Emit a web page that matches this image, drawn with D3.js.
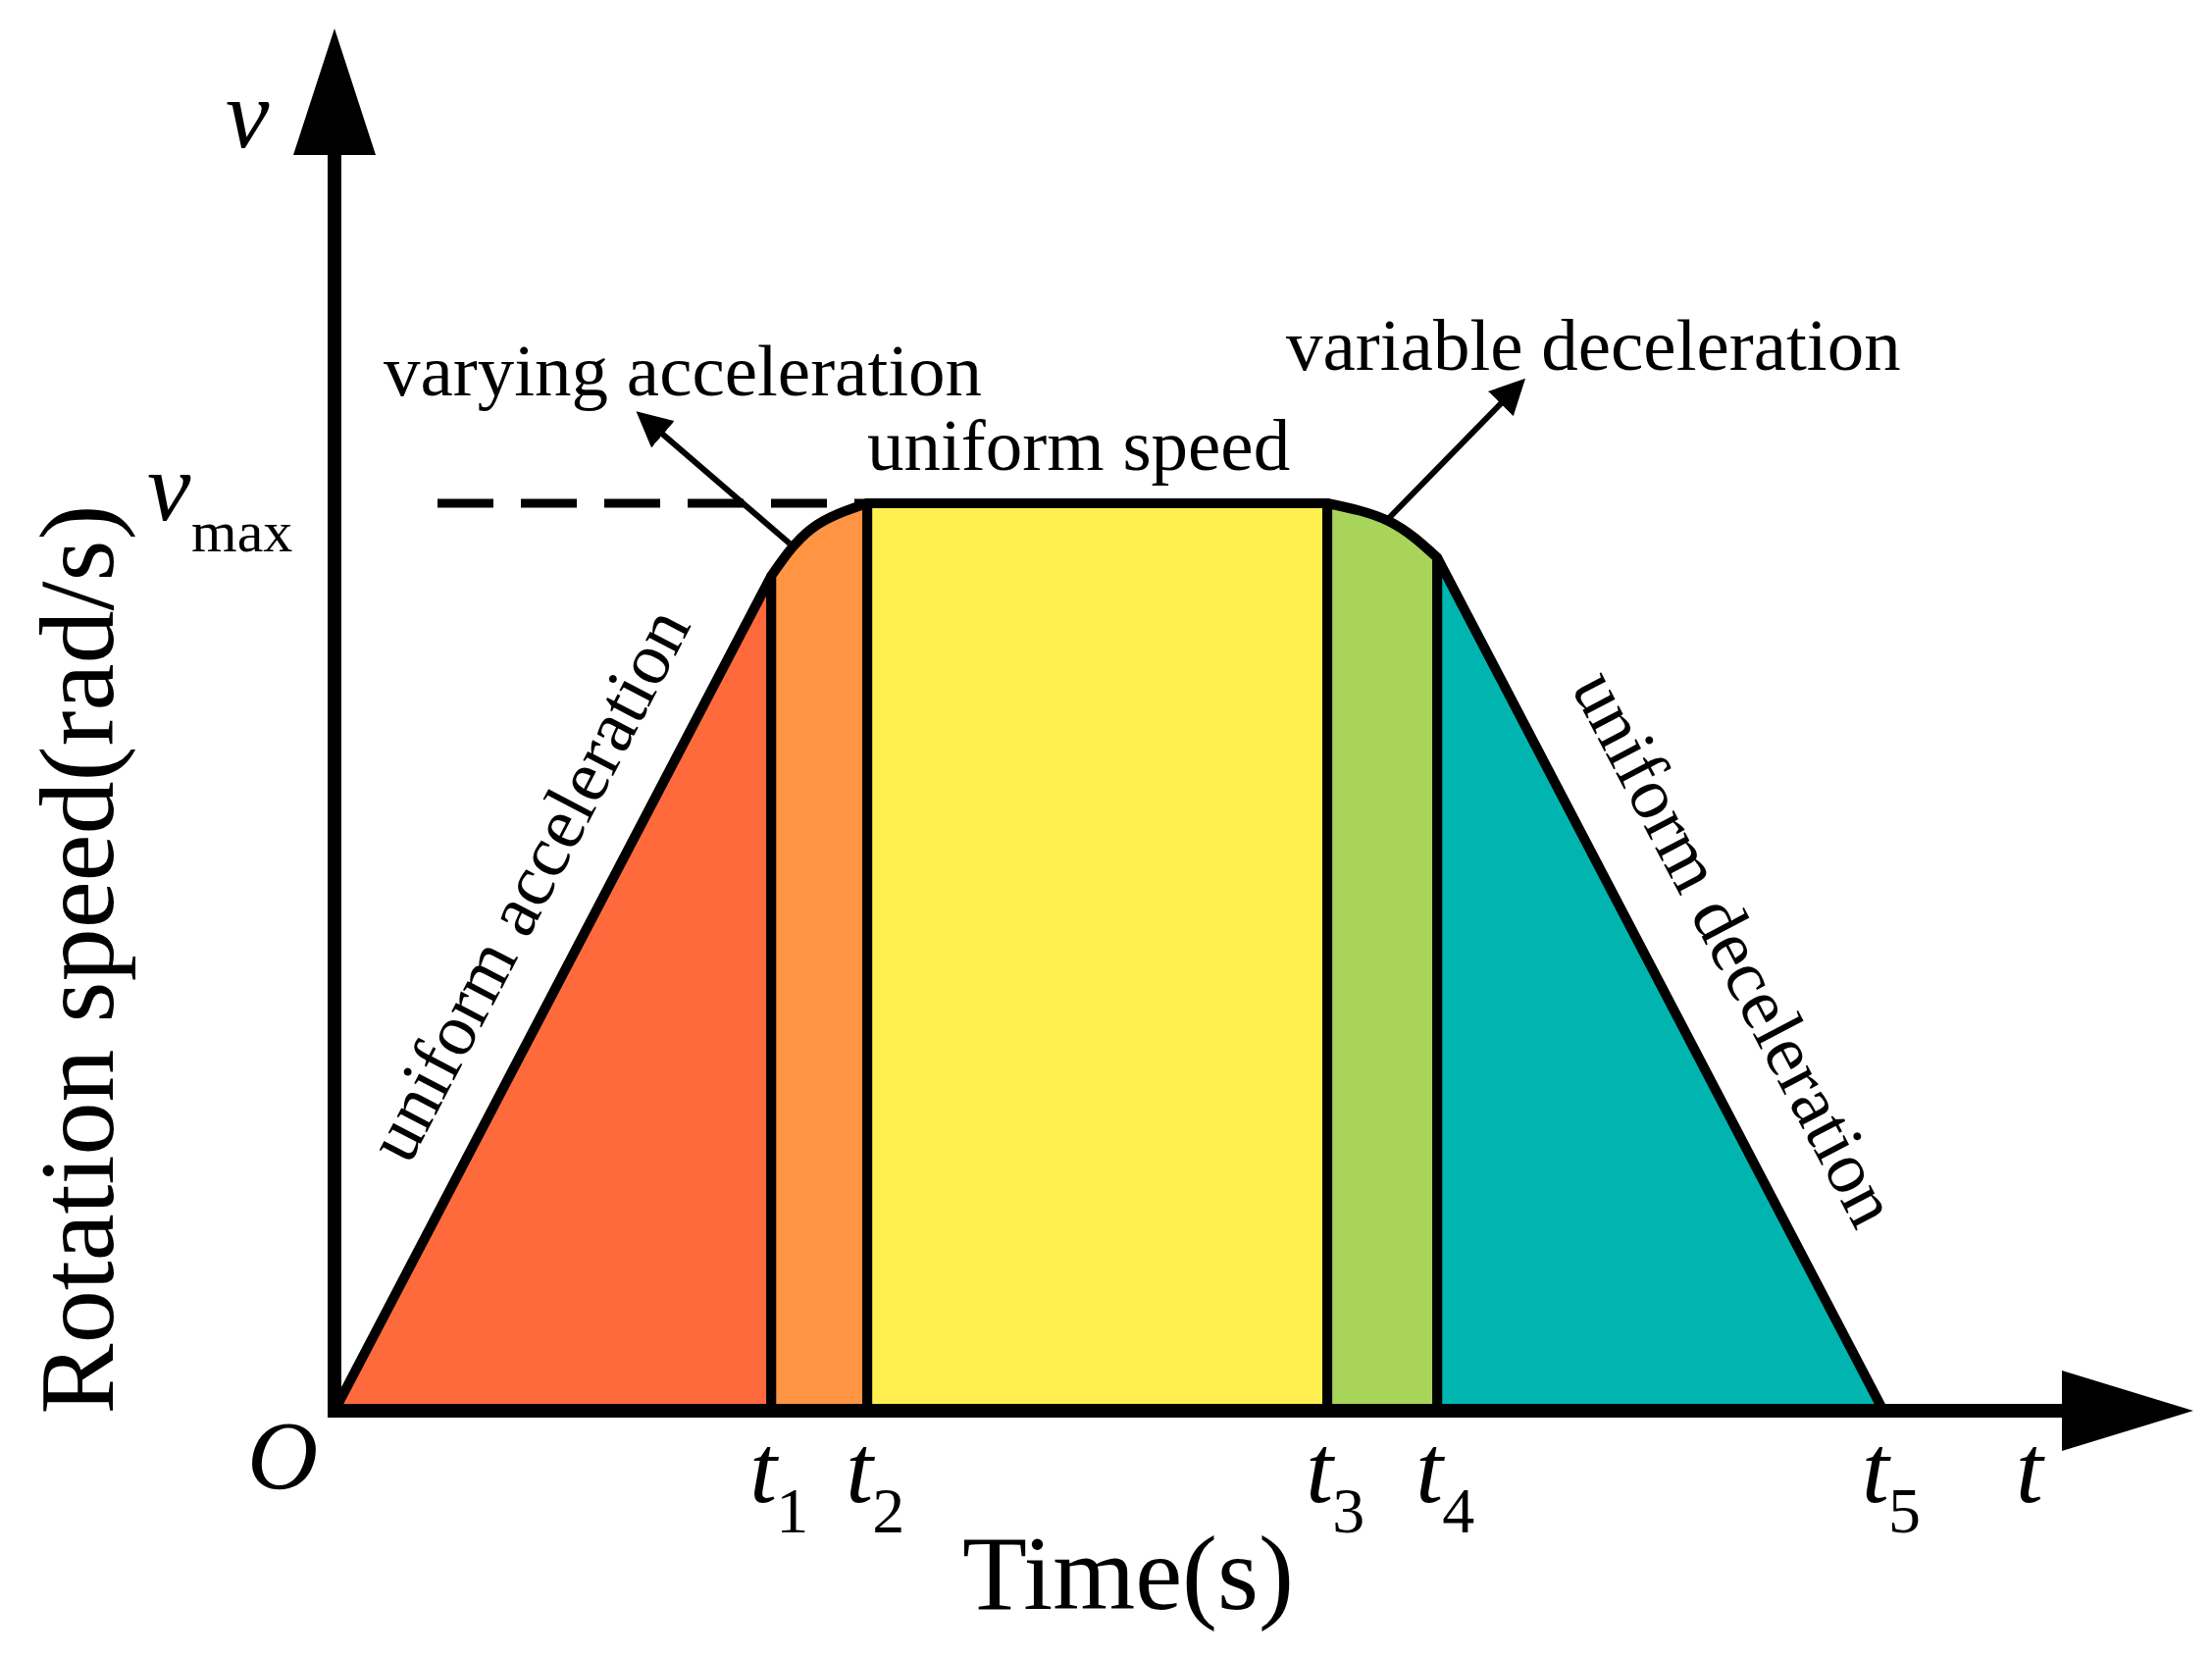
<!DOCTYPE html>
<html><head><meta charset="utf-8">
<script src="https://cdn.jsdelivr.net/npm/d3@7"></script>
<style>body{margin:0;background:#fff}text{font-family:"Liberation Serif","Times New Roman",serif;fill:#000}</style>
</head><body><svg id="c" width="2255" height="1688"></svg>
<script>
// data
const phases = ["uniform acceleration","varying acceleration","uniform speed","variable deceleration","uniform deceleration"];
const phaseColors = ["#FF6A3D","#FF9442","#FFF04F","#A8D45A","#00B5B0"];
const phasePoints = [
  [[0,0],[28.2,0.92]],
  [[28.2,0.92],[30.8,0.972],[34.4,1]],
  [[34.4,1],[64.1,1]],
  [[64.1,1],[68.1,0.98],[71.2,0.94]],
  [[71.2,0.94],[100,0]]
];
const tickTimes = [28.2,34.4,64.1,71.2,100];
const tickLabels = ["1","2","3","4","5"];
const vmax = 1;

const svg = d3.select("#c");
const x = d3.scaleLinear().domain([0,100]).range([341,1920]);
const y = d3.scaleLinear().domain([0,1]).range([1438,513]);

phasePoints.forEach((pts,i)=>{
  const curve = pts.length>2 ? d3.curveNatural : d3.curveLinear;
  const area = d3.area().x(d=>x(d[0])).y0(y(0)).y1(d=>y(d[1])).curve(curve);
  svg.append("path").attr("d",area(pts)).attr("fill",phaseColors[i])
    .attr("stroke","#000").attr("stroke-width",10).attr("stroke-linejoin","round");
});

// dashed vmax line
svg.append("line").attr("x1",446).attr("x2",x(34.4)).attr("y1",y(vmax)).attr("y2",y(vmax))
  .attr("stroke","#000").attr("stroke-width",9).attr("stroke-dasharray","57,28");

// axes
svg.append("line").attr("x1",341).attr("x2",341).attr("y1",1445).attr("y2",150).attr("stroke","#000").attr("stroke-width",14);
svg.append("line").attr("x1",334).attr("x2",2110).attr("y1",1438).attr("y2",1438).attr("stroke","#000").attr("stroke-width",14);
svg.append("path").attr("d","M341,29 L299,158 L383,158 Z");
svg.append("path").attr("d","M2236,1438 L2102,1397 L2102,1479 Z");

// annotation arrows
const defs=svg.append("defs");
defs.append("marker").attr("id","ah").attr("viewBox","0 0 10 10").attr("refX",8).attr("refY",5)
  .attr("markerWidth",6).attr("markerHeight",6).attr("orient","auto")
  .append("path").attr("d","M0,0 L10,5 L0,10 Z");
[[805,554,654,424],[1416,528,1550,391]].forEach(a=>{
  svg.append("line").attr("x1",a[0]).attr("y1",a[1]).attr("x2",a[2]).attr("y2",a[3])
    .attr("stroke","#000").attr("stroke-width",6).attr("marker-end","url(#ah)");
});

// labels
const T=(t,xx,yy,fs,opt={})=>{const e=svg.append("text").attr("x",xx).attr("y",yy).attr("font-size",fs).text(t);
  if(opt.italic)e.attr("font-style","italic"); if(opt.anchor)e.attr("text-anchor",opt.anchor);
  if(opt.rot!==undefined)e.attr("transform",`rotate(${opt.rot},${xx},${yy})`); return e;};
T("v",230,150,100,{italic:true});
T("v",150,530,100,{italic:true});
T("max",195,562,60);
T("O",252,1517,100,{italic:true});
tickTimes.forEach((t,i)=>{
  T("t",x(t)-22,1531,100,{italic:true});
  T(tickLabels[i],x(t)+5,1562,66);
});
T("t",2055,1531,100,{italic:true});
T("Time(s)",1150,1640,108,{anchor:"middle"});
T("Rotation speed(rad/s)",115,978,108,{anchor:"middle",rot:-90});
T("varying acceleration",391,403,75);
T("uniform speed",884,479,75);
T("variable deceleration",1311,377,75);
T("uniform acceleration",561,913,75,{anchor:"middle",rot:-62.4});
T("uniform deceleration",1747,978,75,{anchor:"middle",rot:62.3});
</script></body></html>
